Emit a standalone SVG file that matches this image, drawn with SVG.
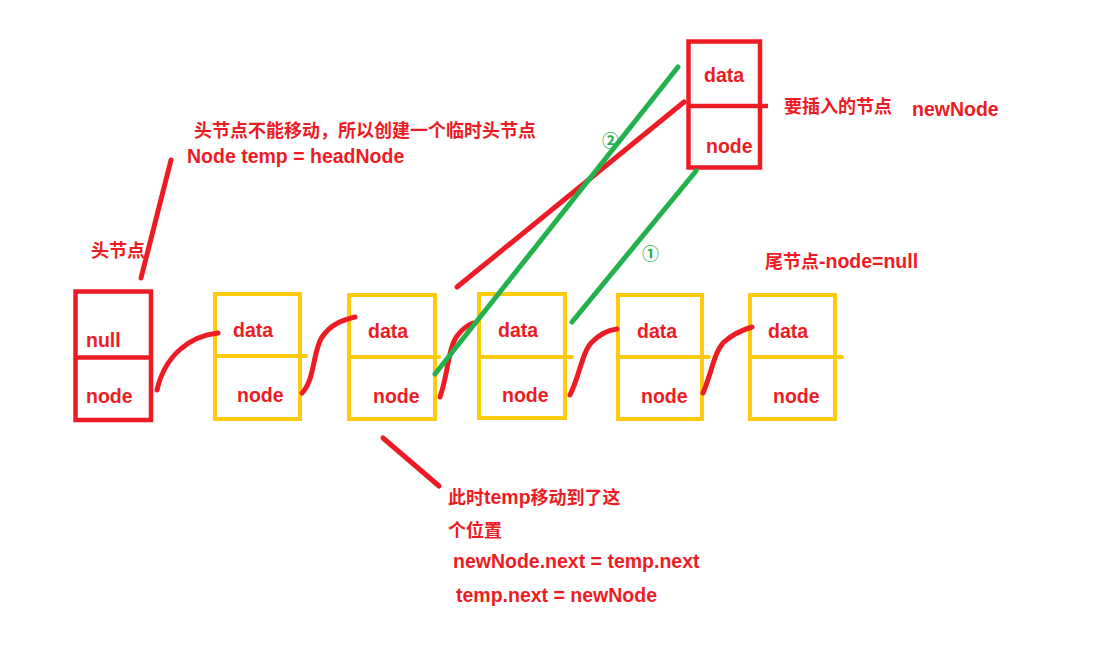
<svg xmlns="http://www.w3.org/2000/svg" width="1110" height="658" viewBox="0 0 1110 658">
<style>
.bg{fill:#ffffff}
.rbox{fill:none;stroke:#ED1C24;stroke-width:4.5}
.ybox{fill:none;stroke:#FFC90E;stroke-width:4}
.rdiv{stroke:#ED1C24;stroke-width:4.5;stroke-linecap:butt}
.ydiv{stroke:#FFC90E;stroke-width:4;stroke-linecap:round}
.t{font-family:"Liberation Sans","Noto Sans CJK SC",sans-serif;font-weight:bold;font-size:19.5px;fill:#ED1C24}
.cn{font-family:"Noto Sans CJK SC","Liberation Sans",sans-serif;font-weight:bold;font-size:18px}
.red{fill:none;stroke:#ED1C24;stroke-width:5;stroke-linecap:round}
.green{fill:none;stroke:#22B14C;stroke-width:5;stroke-linecap:round}
.num{font-family:"Noto Sans CJK SC","DejaVu Sans",sans-serif;font-weight:bold;font-size:17px;fill:#22B14C}
</style>
<rect class="bg" x="0" y="0" width="1110" height="658"/>

<g id="head-node">
<rect class="rbox" x="75.5" y="291.5" width="75.5" height="128.5"/>
<line class="rdiv" x1="75" y1="357.5" x2="151" y2="357.5"/>
<text class="t" x="86" y="347">null</text>
<text class="t" x="86" y="403">node</text>
</g>

<g id="node-1">
<rect class="ybox" x="215" y="294" width="85" height="125"/>
<line class="ydiv" x1="215" y1="356" x2="306" y2="356"/>
<text class="t" x="233" y="337">data</text>
<text class="t" x="237" y="402">node</text>
</g>

<g id="node-2">
<rect class="ybox" x="349" y="295" width="86" height="124"/>
<line class="ydiv" x1="349" y1="357" x2="439" y2="357"/>
<text class="t" x="368" y="338">data</text>
<text class="t" x="373" y="403">node</text>
</g>

<g id="node-3">
<rect class="ybox" x="479" y="294" width="86" height="124"/>
<line class="ydiv" x1="479" y1="357" x2="572" y2="357"/>
<text class="t" x="498" y="337">data</text>
<text class="t" x="502" y="402">node</text>
</g>

<g id="node-4">
<rect class="ybox" x="618" y="295" width="84" height="124"/>
<line class="ydiv" x1="618" y1="357" x2="709" y2="357"/>
<text class="t" x="637" y="338">data</text>
<text class="t" x="641" y="403">node</text>
</g>

<g id="node-5">
<rect class="ybox" x="750" y="295" width="85" height="124"/>
<line class="ydiv" x1="750" y1="357" x2="842" y2="357"/>
<text class="t" x="768" y="338">data</text>
<text class="t" x="773" y="403">node</text>
</g>

<g id="new-node">
<rect class="rbox" x="688.5" y="41.5" width="71.5" height="126"/>
<line class="rdiv" x1="688" y1="106" x2="768" y2="106"/>
<text class="t" x="704" y="82">data</text>
<text class="t" x="706" y="153">node</text>
</g>

<g id="connectors">
<path class="red" d="M218,333 C190,336 165,355 157,390"/>
<path class="red" d="M302,393 C315,380 313,350 322,337 C332,323 344,320 355,317"/>
<path class="red" d="M440,397 C448,375 448,348 457,336 C463,328 468,325 473,323"/>
<path class="red" d="M570,395 C580,375 582,352 592,342 C600,334 608,330 617,329"/>
<path class="red" d="M703,393 C712,372 714,352 724,342 C733,334 742,330 752,327"/>
<line class="red" x1="171" y1="160" x2="141" y2="278"/>
<line class="red" x1="684" y1="102" x2="457" y2="287"/>
<line class="red" x1="383" y1="438" x2="439" y2="486"/>
<line class="green" x1="678" y1="67" x2="435" y2="374"/>
<line class="green" x1="696" y1="171" x2="572" y2="322"/>
</g>

<g id="labels">
<text class="t cn" x="194" y="137">头节点不能移动，所以创建一个临时头节点</text>
<text class="t" x="187" y="163">Node temp = headNode</text>
<text class="t cn" x="91" y="257">头节点</text>
<text class="t cn" x="784" y="113">要插入的节点</text>
<text class="t" x="912" y="116">newNode</text>
<text class="t" x="765" y="268"><tspan class="cn">尾节点</tspan>-node=null</text>
<text class="num" x="602" y="147">②</text>
<text class="num" x="642" y="260">①</text>
<text class="t" x="448" y="504"><tspan class="cn">此时</tspan>temp<tspan class="cn">移动到了这</tspan></text>
<text class="t cn" x="448" y="537">个位置</text>
<text class="t" x="453" y="568">newNode.next = temp.next</text>
<text class="t" x="456" y="602">temp.next = newNode</text>
</g>
</svg>
